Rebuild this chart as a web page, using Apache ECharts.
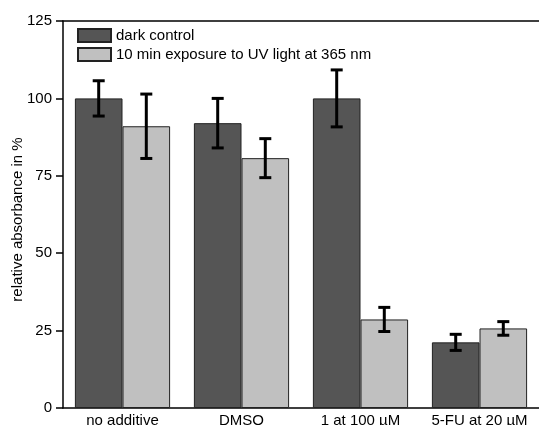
<!DOCTYPE html>
<html><head><meta charset="utf-8">
<script src="https://cdn.jsdelivr.net/npm/echarts@6/dist/echarts.min.js"></script>
<style>html,body{margin:0;padding:0;background:#fff}#c{width:539px;height:425px}</style>
</head><body><div id="c"></div>
<script>
const categories = ['no additive', 'DMSO', '1 at 100 µM', '5-FU at 20 µM'];
const seriesNames = ['dark control', '10 min exposure to UV light at 365 nm'];
const darkValues = [100, 92, 100, 21.2];
const darkErrors = [5.7, 8, 9.2, 2.6];
const lightValues = [91, 80.7, 28.6, 25.7];
const lightErrors = [10.4, 6.3, 3.9, 2.2];
const yTicks = [0, 25, 50, 75, 100, 125];

const chart = echarts.init(document.getElementById('c'));
const font = 'Liberation Sans, Arial, sans-serif';

function errSeries(vals, errs, idx) {
  return {
    type: 'custom',
    z: 10,
    data: vals.map((v, i) => [i, v - errs[i], v + errs[i]]),
    renderItem: function (params, api) {
      const lo = api.coord([api.value(0), api.value(1)]);
      const hi = api.coord([api.value(0), api.value(2)]);
      const bw = api.size([1, 0])[0];
      const barW = bw * 0.8 / 2;
      const x = lo[0] + (idx === 0 ? -barW / 2 : barW / 2);
      const cap = 6;
      const st = { stroke: '#000', lineWidth: 3 };
      return { type: 'group', children: [
        { type: 'line', shape: { x1: x, y1: lo[1], x2: x, y2: hi[1] }, style: st },
        { type: 'line', shape: { x1: x - cap, y1: hi[1], x2: x + cap, y2: hi[1] }, style: st },
        { type: 'line', shape: { x1: x - cap, y1: lo[1], x2: x + cap, y2: lo[1] }, style: st }
      ]};
    }
  };
}

chart.setOption({
  animation: false,
  backgroundColor: '#fff',
  grid: { left: 63, right: 0, top: 21, bottom: 17, containLabel: false, outerBoundsMode: 'none' },
  legend: {
    left: 72, top: 23, orient: 'vertical', itemWidth: 33, itemHeight: 13, itemGap: 4,
    icon: 'rect', textStyle: { fontFamily: font, fontSize: 15, color: '#000' },
    data: seriesNames
  },
  xAxis: [{
    type: 'category', data: categories,
    axisLine: { lineStyle: { color: '#000', width: 1.5 } },
    axisTick: { show: false },
    axisLabel: { fontFamily: font, fontSize: 15, color: '#000', margin: 5, interval: 0 }
  }, {
    type: 'category', position: 'top', data: categories,
    axisLine: { lineStyle: { color: '#000', width: 1.5 } },
    axisTick: { show: false }, axisLabel: { show: false }
  }],
  yAxis: {
    type: 'value', min: yTicks[0], max: yTicks[yTicks.length - 1], interval: 25,
    name: 'relative absorbance in %', nameLocation: 'middle', nameGap: 38, nameMoveOverlap: false,
    nameTextStyle: { fontFamily: font, fontSize: 15, color: '#000', padding: [0, 10, 0, 0] },
    axisLine: { show: true, lineStyle: { color: '#000', width: 1.5 } },
    axisTick: { show: true, inside: false, length: 7, lineStyle: { color: '#000', width: 1.5 } },
    axisLabel: { fontFamily: font, fontSize: 15, color: '#000', margin: 11 },
    splitLine: { show: false }
  },
  series: [{
    name: seriesNames[0], type: 'bar', data: darkValues, barGap: '0%', barCategoryGap: '20%',
    itemStyle: { color: '#555555', borderColor: '#222', borderWidth: 1 }
  }, {
    name: seriesNames[1], type: 'bar', data: lightValues,
    itemStyle: { color: '#c0c0c0', borderColor: '#222', borderWidth: 1 }
  }, errSeries(darkValues, darkErrors, 0), errSeries(lightValues, lightErrors, 1)]
});
</script></body></html>
